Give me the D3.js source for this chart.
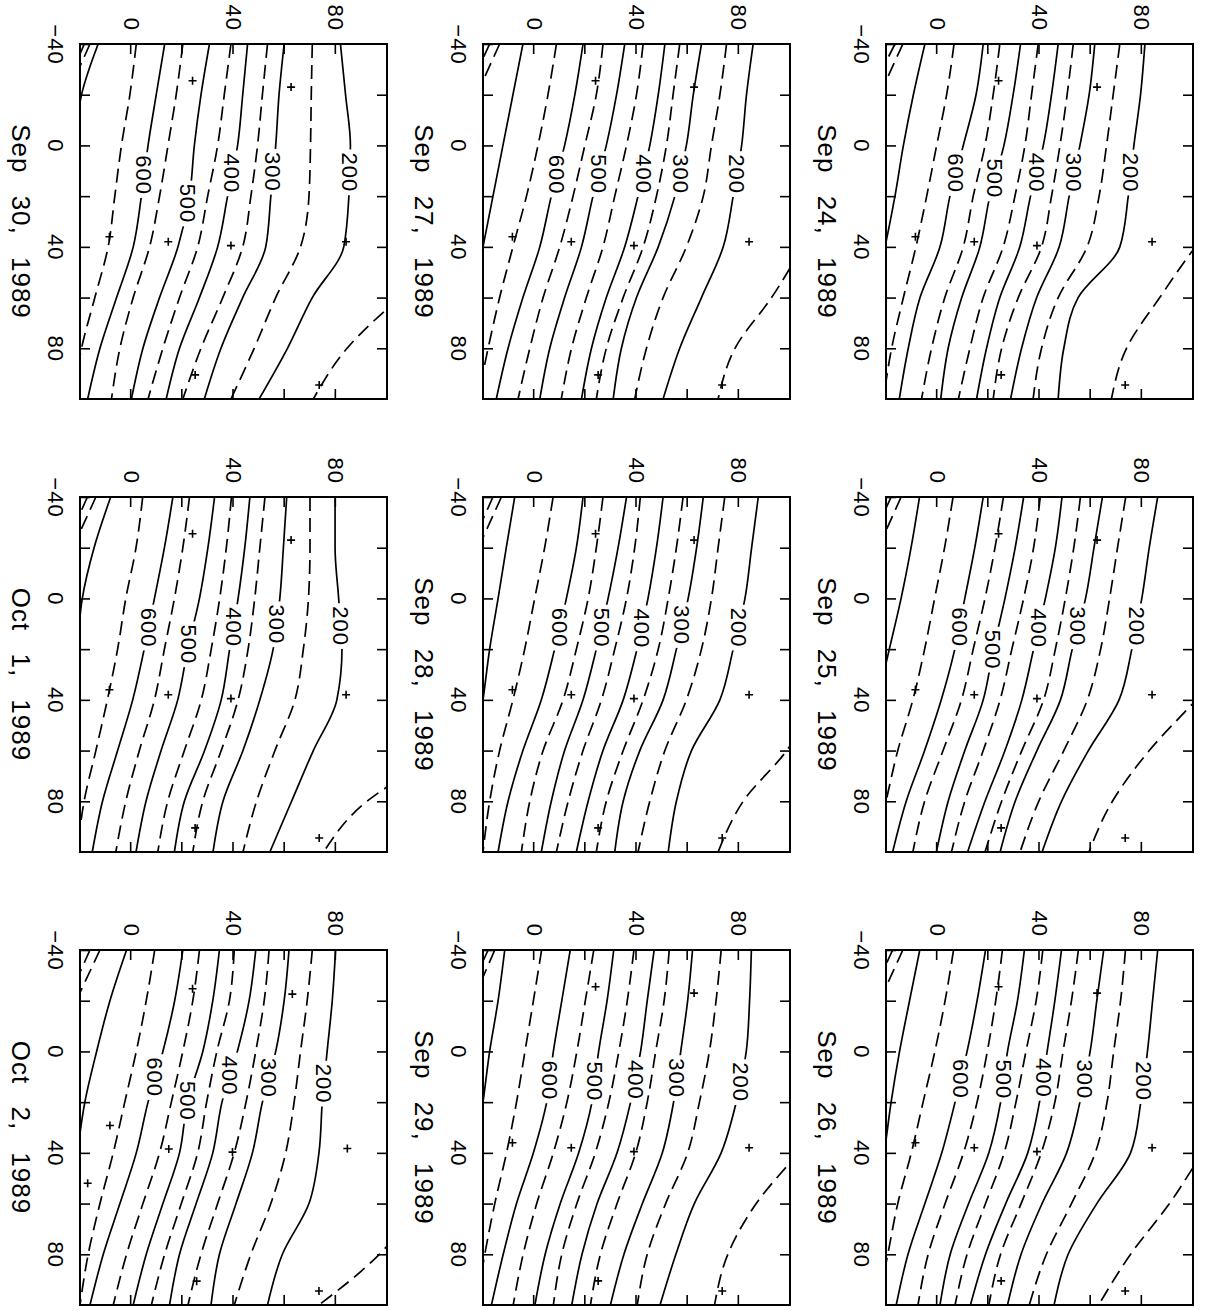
<!DOCTYPE html>
<html><head><meta charset="utf-8">
<script src="https://cdnjs.cloudflare.com/ajax/libs/d3/7.8.5/d3.min.js"></script>
<style>
html,body{margin:0;padding:0;background:#fff;}
svg{display:block;}
text{font-family:"Liberation Sans",Arial,Helvetica,sans-serif;fill:#000;}
</style></head><body>
<svg id="chart" width="1209" height="1310"></svg>
<script>
// ---- data (longitude samples, contour levels, latitude of each contour at each longitude) ----
const lons = [-40, -20, 0, 20, 40, 60, 80, 100];
const levels = [150, 200, 250, 300, 350, 400, 450, 500, 550, 600, 650, 700, 750, 850];
const labelLevels = [200, 300, 400, 500, 600];
const dates = ["Sep 24, 1989", "Sep 25, 1989", "Sep 26, 1989",
               "Sep 27, 1989", "Sep 28, 1989", "Sep 29, 1989",
               "Sep 30, 1989", "Oct 1, 1989", "Oct 2, 1989"];
const xTickLabels = [-40, 0, 40, 80];
const yTickLabels = [0, 40, 80];

const sep24 = [
 [null,null,null,118,101,87.0,74.0,68.1],
 [81.2,79.5,76.9,74.7,71.4,55.1,49.5,47.3],
 [71.4,68.8,66.2,63.3,58.6,47.3,40.8,37.5],
 [61.6,59.4,55.8,51.6,47.7,38.9,33.0,28.7],
 [53.2,50.8,48.0,44.7,40.8,31.7,25.2,21.9],
 [47.3,44.7,41.5,36.5,32.3,24.5,19.3,15.4],
 [39.5,36.9,34.3,30.4,25.8,18.0,12.8,8.3],
 [32.6,29.7,26.1,20.6,16.7,9.6,4.3,1.4],
 [24.5,21.9,18.7,14.1,10.2,3.0,-2.2,-6.1],
 [18.0,15.2,10.2,5.0,1.1,-6.7,-11.3,-14.8],
 [6.6,3.7,-0.2,-4.1,-8.3,-13.2,-17.8,-21.0],
 [-4.8,-9.3,-13.2,-16.5,-20.4,-25.0,null,null],
 [-13.4,-22.5,null,null,null,null,null,null],
 [-16.5,-26.5,null,null,null,null,null,null]
];
const sep25 = [
 [null,null,null,119.6,101.3,82.9,68.5,59.3],
 [86.2,82.9,80.0,76.1,71.1,59.1,48.6,41.0],
 [73.7,70.5,67.4,63.9,58.7,49.5,39.7,32.4],
 [64.6,61.3,58.0,52.8,48.2,39.0,30.5,24.6],
 [56.0,53.4,50.1,46.2,41.6,33.1,25.2,18.7],
 [48.8,46.2,42.3,37.7,33.1,26.5,18.7,11.9],
 [40.3,37.7,33.8,29.2,24.6,18.0,10.8,5.6],
 [33.8,30.5,26.5,22.0,18.0,10.8,4.3,-0.3],
 [25.9,22.6,18.7,14.1,9.5,2.3,-4.9,-9.5],
 [18.0,14.7,10.8,6.9,1.6,-4.9,-12.1,-17.4],
 [6.2,2.9,-1.0,-4.9,-9.5,-15.4,-20.0,-24.6],
 [-6.9,-10.2,-14.1,-18.7,-23.3,null,null,null],
 [-14.1,-23.0,null,null,null,null,null,null],
 [-18.0,-27.0,null,null,null,null,null,null]
];
const sep26 = [
 [null,null,null,120,104,90.8,75.6,63.1],
 [86.2,84.2,82.2,79.6,75.6,62.4,51.2,45.7],
 [73.6,71.7,69.0,66.4,61.8,52.5,42.7,36.0],
 [65.1,62.4,59.8,55.8,50.6,41.0,32.8,27.5],
 [55.2,52.5,49.2,46.0,40.7,32.8,24.8,20.2],
 [48.6,46.0,43.0,40.0,35.4,26.8,18.9,13.0],
 [41.3,38.7,34.7,30.8,26.2,18.9,11.7,7.0],
 [34.1,31.4,27.5,24.8,20.2,12.3,5.1,1.1],
 [25.5,22.9,19.6,15.6,10.3,3.1,-3.5,-7.5],
 [18.9,15.6,11.7,7.0,1.8,-4.8,-11.4,-16.0],
 [6.4,3.1,-0.9,-5.5,-10.1,-15.4,-19.3,-23.3],
 [-6.8,-10.8,-14.7,-18.0,-20.7,-24.0,null,null],
 [-13.4,-22.5,null,null,null,null,null,null],
 [-17.4,-26.5,null,null,null,null,null,null]
];
const sep27 = [
 [null,null,null,117,105,92.8,78.5,71.9],
 [85.6,83.0,81.1,77.8,73.9,65.4,56.9,50.4],
 [75.2,72.6,69.3,66.1,59.5,50.4,43.9,39.3],
 [65.4,62.2,59.5,55.0,48.5,40.0,34.1,30.9],
 [56.9,54.3,51.7,47.8,42.6,34.8,28.2,24.3],
 [51.1,48.5,45.2,40.6,35.4,28.2,22.4,18.5],
 [42.6,40.0,36.1,31.5,26.9,20.4,14.6,10.6],
 [35.4,32.2,28.2,23.0,18.5,11.9,6.1,2.2],
 [26.9,24.3,19.8,15.2,10.0,3.5,-1.7,-6.3],
 [19.1,15.9,11.9,6.7,2.2,-4.4,-10.2,-14.8],
 [8.7,5.4,1.5,-3.0,-8.3,-13.5,-18.0,-22.0],
 [-4.4,-8.3,-12.2,-16.1,-20.0,-24.0,null,null],
 [-13.5,-22.5,null,null,null,null,null,null],
 [-17.4,-26.5,null,null,null,null,null,null]
];
const sep28 = [
 [null,null,null,null,110,98.7,81.7,71.9],
 [87.6,85.0,82.4,77.8,72.6,61.5,55.6,52.4],
 [74.5,71.9,69.3,65.4,59.5,51.1,45.2,40.6],
 [66.1,63.5,60.2,55.6,50.4,41.3,34.8,31.5],
 [58.2,55.6,52.4,48.5,42.6,34.8,28.2,24.3],
 [50.4,47.8,44.5,40.2,34.8,26.9,21.1,16.5],
 [41.5,39.3,36.1,31.5,26.3,19.1,13.3,8.7],
 [36.1,32.8,28.9,24.3,19.1,11.9,6.7,2.8],
 [26.9,24.3,21.1,16.5,11.3,3.5,-1.7,-5.0],
 [19.1,16.5,12.6,8.0,2.8,-4.4,-10.2,-14.1],
 [7.4,4.1,0.2,-3.7,-8.3,-13.5,-17.4,-20.0],
 [-7.6,-10.9,-14.1,-17.4,-20.0,-23.0,null,null],
 [-12.8,-21.8,null,null,null,null,null,null],
 [-16.1,-25.0,null,null,null,null,null,null]
];
const sep29 = [
 [null,null,null,119,103.2,86.8,75.7,70.5],
 [84.9,84.2,82.9,79.0,73.1,62.6,55.4,49.2],
 [73.1,71.1,68.5,64.6,60.0,51.4,44.2,40.3],
 [61.9,60.0,57.3,54.5,50.1,42.3,35.1,29.8],
 [52.8,50.8,47.5,44.2,39.7,32.4,25.9,22.0],
 [46.9,44.2,41.6,37.7,32.4,24.6,18.7,14.7],
 [39.0,36.4,33.1,29.2,23.9,16.7,10.8,7.5],
 [31.1,28.5,25.2,22.6,17.4,10.2,4.3,0.3],
 [23.3,20.0,16.7,12.8,7.5,1.0,-4.3,-8.2],
 [14.1,10.8,7.5,4.9,-0.3,-6.9,-12.1,-16.7],
 [2.9,-0.3,-3.6,-6.9,-10.8,-15.4,-19.3,-22.6],
 [-11.5,-14.1,-17.4,-20.0,-23.0,null,null,null],
 [-15.4,-24.0,null,null,null,null,null,null],
 [-18.0,-27.0,null,null,null,null,null,null]
];
const sep30 = [
 [null,null,null,null,131,105.2,84.4,71.2],
 [81.8,83.8,85.7,85.1,83.1,70.8,61.1,50.0],
 [70.8,70.4,70.1,69.5,66.2,56.5,48.1,39.0],
 [59.8,57.8,56.5,54.6,52.6,43.6,35.1,28.6],
 [53.3,51.3,49.4,46.8,43.6,35.8,27.3,20.2],
 [45.5,43.6,41.6,37.7,33.8,26.7,18.9,13.7],
 [39.0,36.4,33.8,29.9,26.0,18.9,12.4,6.6],
 [30.6,27.3,24.7,22.8,18.3,11.1,4.6,0.1],
 [20.2,17.6,14.4,11.1,7.2,0.8,-4.4,-7.7],
 [13.1,9.8,6.6,4.0,0.8,-5.7,-12.2,-17.0],
 [2.0,-0.5,-3.8,-6.4,-9.0,-14.2,-19.4,-22.6],
 [-12.9,-19.4,-22.0,null,null,null,null,null],
 [-16.1,-25.0,null,null,null,null,null,null],
 [-18.3,-27.0,null,null,null,null,null,null]
];
const oct1 = [
 [null,null,null,null,null,125,92.2,75.2],
 [79.7,79.7,81.1,82.4,80.4,71.2,62.7,54.2],
 [69.9,69.9,69.3,67.3,64.0,56.2,49.0,43.7],
 [60.8,59.5,58.1,55.5,50.3,43.7,35.9,32.0],
 [52.3,50.3,48.3,45.7,41.8,35.2,28.0,24.1],
 [46.4,44.4,41.8,38.5,35.2,28.7,20.8,16.9],
 [39.2,37.2,34.6,31.3,27.4,20.8,14.3,10.4],
 [32.6,30.0,26.7,22.1,18.2,11.7,5.8,1.9],
 [22.8,20.2,16.9,13.0,9.1,3.2,-2.1,-6.0],
 [16.3,13.0,9.1,5.1,0.6,-5.3,-11.2,-15.2],
 [4.5,1.9,-2.1,-5.3,-9.3,-13.8,-18.4,-21.0],
 [-8.0,-14.5,-19.1,-21.0,null,null,null,null],
 [-13.8,-22.8,null,null,null,null,null,null],
 [-17.1,-26.0,null,null,null,null,null,null]
];
const oct2 = [
 [null,null,null,null,null,112,97,73.4],
 [79.9,78.6,76.6,74.7,73.4,69.5,59.1,53.3],
 [70.8,68.8,66.2,63.7,60.4,54.6,46.8,40.3],
 [61.7,59.8,56.5,51.3,47.4,41.0,34.5,31.2],
 [53.9,52.0,48.7,44.9,40.3,33.8,27.3,22.2],
 [48.7,46.1,41.5,35.5,31.9,25.4,18.9,15.0],
 [40.3,38.4,33.5,29.5,26.0,19.6,13.1,7.9],
 [34.5,31.9,28.0,22.0,18.9,12.4,5.9,0.8],
 [26.7,24.1,20.2,15.7,11.1,4.6,-1.8,-7.0],
 [20.2,17.0,12.4,6.6,2.0,-4.4,-10.9,-16.1],
 [9.2,5.9,2.0,-2.5,-7.0,-12.2,-16.8,-20.0],
 [-1.8,-8.3,-13.5,-18.1,-21.0,null,null,null],
 [-12.2,-21.5,null,null,null,null,null,null],
 [-16.1,-25.0,null,null,null,null,null,null]
];

// longitude at which the 200/300/400/500/600 labels sit
const labLonSep24 = [10.7, 10.7, 10.7, 13.0, 10.9];
const labLonSep25 = [11.0, 11.0, 11.7, 20.2, 11.3];
const labLonSep26 = [11.7, 11.0, 10.4, 11.0, 10.8];
const labLonSep27 = [11.3, 11.3, 11.3, 11.3, 11.5];
const labLonSep28 = [11.5, 10.5, 11.8, 11.5, 11.5];
const labLonSep29 = [12.1, 10.5, 11.2, 11.8, 11.4];
const labLonSep30 = [10.6, 10.4, 11.0, 22.9, 11.7];
const labLonOct1  = [10.9, 10.2, 11.3, 18.1, 11.5];
const labLonOct2  = [12.7, 10.4, 9.5, 19.5, 10.1];

// station positions [lon, lat]
const stations = [[-25.5,24],[-23,62.5],[36,-8.5],[38,14.5],[39.5,39],[38,84],[90.5,25],[94.5,73.5]];
const stationsOct2 = [[-24.7,24],[-22.6,63],[29.2,-8.3],[52,-17],[38.5,14.7],[39.7,39.6],[38.3,84.5],[90.6,25.6],[94.5,73.4]];

// ---- drawing ----
const grids = [sep24, sep25, sep26, sep27, sep28, sep29, sep30, oct1, oct2];
const labLons = [labLonSep24, labLonSep25, labLonSep26, labLonSep27, labLonSep28, labLonSep29, labLonSep30, labLonOct1, labLonOct2];
const stationSets = [stations, stations, stations, stations, stations, stations, stations, stations, stationsOct2];

const W = 355, H = 307;
const colU = [44, 497, 950], rowV = [16, 419, 822];
const FONT = "Liberation Sans, Arial, Helvetica, sans-serif";

const svg = d3.select("#chart");
svg.append("rect").attr("width", 1209).attr("height", 1310).attr("fill", "#fff");
const root = svg.append("g").attr("transform", "translate(1209,0) rotate(90)");

grids.forEach((grid, i) => {
  const r = Math.floor(i / 3), c = i % 3;
  const g = root.append("g").attr("transform", `translate(${colU[c]},${rowV[r]})`);
  const x = d3.scaleLinear().domain([-40, 100]).range([0, W]);
  const y = d3.scaleLinear().domain([-20, 100]).range([H, 0]);

  const cid = "clip" + i;
  g.append("clipPath").attr("id", cid).append("rect").attr("width", W).attr("height", H);
  const cg = g.append("g").attr("clip-path", `url(#${cid})`);

  const line = d3.line().x(d => x(d[0])).y(d => y(d[1])).curve(d3.curveMonotoneX);
  const paths = {};
  levels.forEach((lev, k) => {
    const pts = lons.map((lo, j) => [lo, grid[k][j]]).filter(d => d[1] !== null);
    if (pts.length < 2) return;
    const p = cg.append("path").attr("d", line(pts))
      .attr("fill", "none").attr("stroke", "#000").attr("stroke-width", 1.7);
    if (lev % 100 !== 0) p.attr("stroke-dasharray", "14,7");
    paths[lev] = p.node();
  });

  // contour labels
  labelLevels.forEach((lev, k) => {
    const node = paths[lev];
    const tx = x(labLons[i][k]);
    let lo = 0, hi = node.getTotalLength();
    for (let it = 0; it < 40; it++) {
      const mid = (lo + hi) / 2;
      if (node.getPointAtLength(mid).x < tx) lo = mid; else hi = mid;
    }
    const pt = node.getPointAtLength(lo);
    const t = cg.append("text").attr("x", pt.x).attr("y", pt.y)
      .attr("text-anchor", "middle").attr("dy", "0.36em")
      .attr("font-size", 22).attr("letter-spacing", 1).text(lev);
    const bb = t.node().getBBox();
    cg.insert("rect", () => t.node())
      .attr("x", bb.x - 3).attr("y", pt.y - 8).attr("width", bb.width + 6).attr("height", 16)
      .attr("fill", "#fff");
  });

  // stations
  cg.selectAll("path.st").data(stationSets[i]).enter().append("path").attr("class", "st")
    .attr("d", d => `M${x(d[0]) - 4},${y(d[1])}h8M${x(d[0])},${y(d[1]) - 4}v8`)
    .attr("stroke", "#000").attr("stroke-width", 1.6).attr("fill", "none");

  // axes
  const fmtX = d => xTickLabels.includes(d) ? (d < 0 ? "\u2212" + (-d) : String(d)) : "";
  const fmtY = d => yTickLabels.includes(d) ? String(d) : "";
  const styleAxis = a => {
    a.select(".domain").remove();
    a.attr("font-size", 22).attr("font-family", FONT);
    a.selectAll("line").attr("stroke-width", 1.6);
    a.selectAll("text").attr("letter-spacing", 1);
  };
  g.append("g").attr("transform", `translate(0,${H})`)
    .call(d3.axisBottom(x).tickValues([-40, -20, 0, 20, 40, 60, 80]).tickSize(-10).tickPadding(16).tickFormat(fmtX))
    .call(styleAxis);
  g.append("g")
    .call(d3.axisTop(x).tickValues([-20, 0, 20, 40, 60, 80]).tickSize(-10).tickFormat(""))
    .call(styleAxis);
  g.append("g")
    .call(d3.axisLeft(y).tickValues([0, 20, 40, 60, 80]).tickSize(-10).tickPadding(13).tickFormat(fmtY))
    .call(styleAxis);
  g.append("g").attr("transform", `translate(${W},0)`)
    .call(d3.axisRight(y).tickValues([0, 20, 40, 60, 80]).tickSize(-10).tickFormat(""))
    .call(styleAxis);

  // frame
  g.append("rect").attr("width", W).attr("height", H)
    .attr("fill", "none").attr("stroke", "#000").attr("stroke-width", 2);

  // title
  g.append("text").attr("x", W / 2).attr("y", H + 68)
    .attr("text-anchor", "middle").attr("font-size", 26)
    .attr("letter-spacing", 1).attr("word-spacing", 14)
    .style("white-space", "pre")
    .text(dates[i]);
});
</script>
</body></html>
